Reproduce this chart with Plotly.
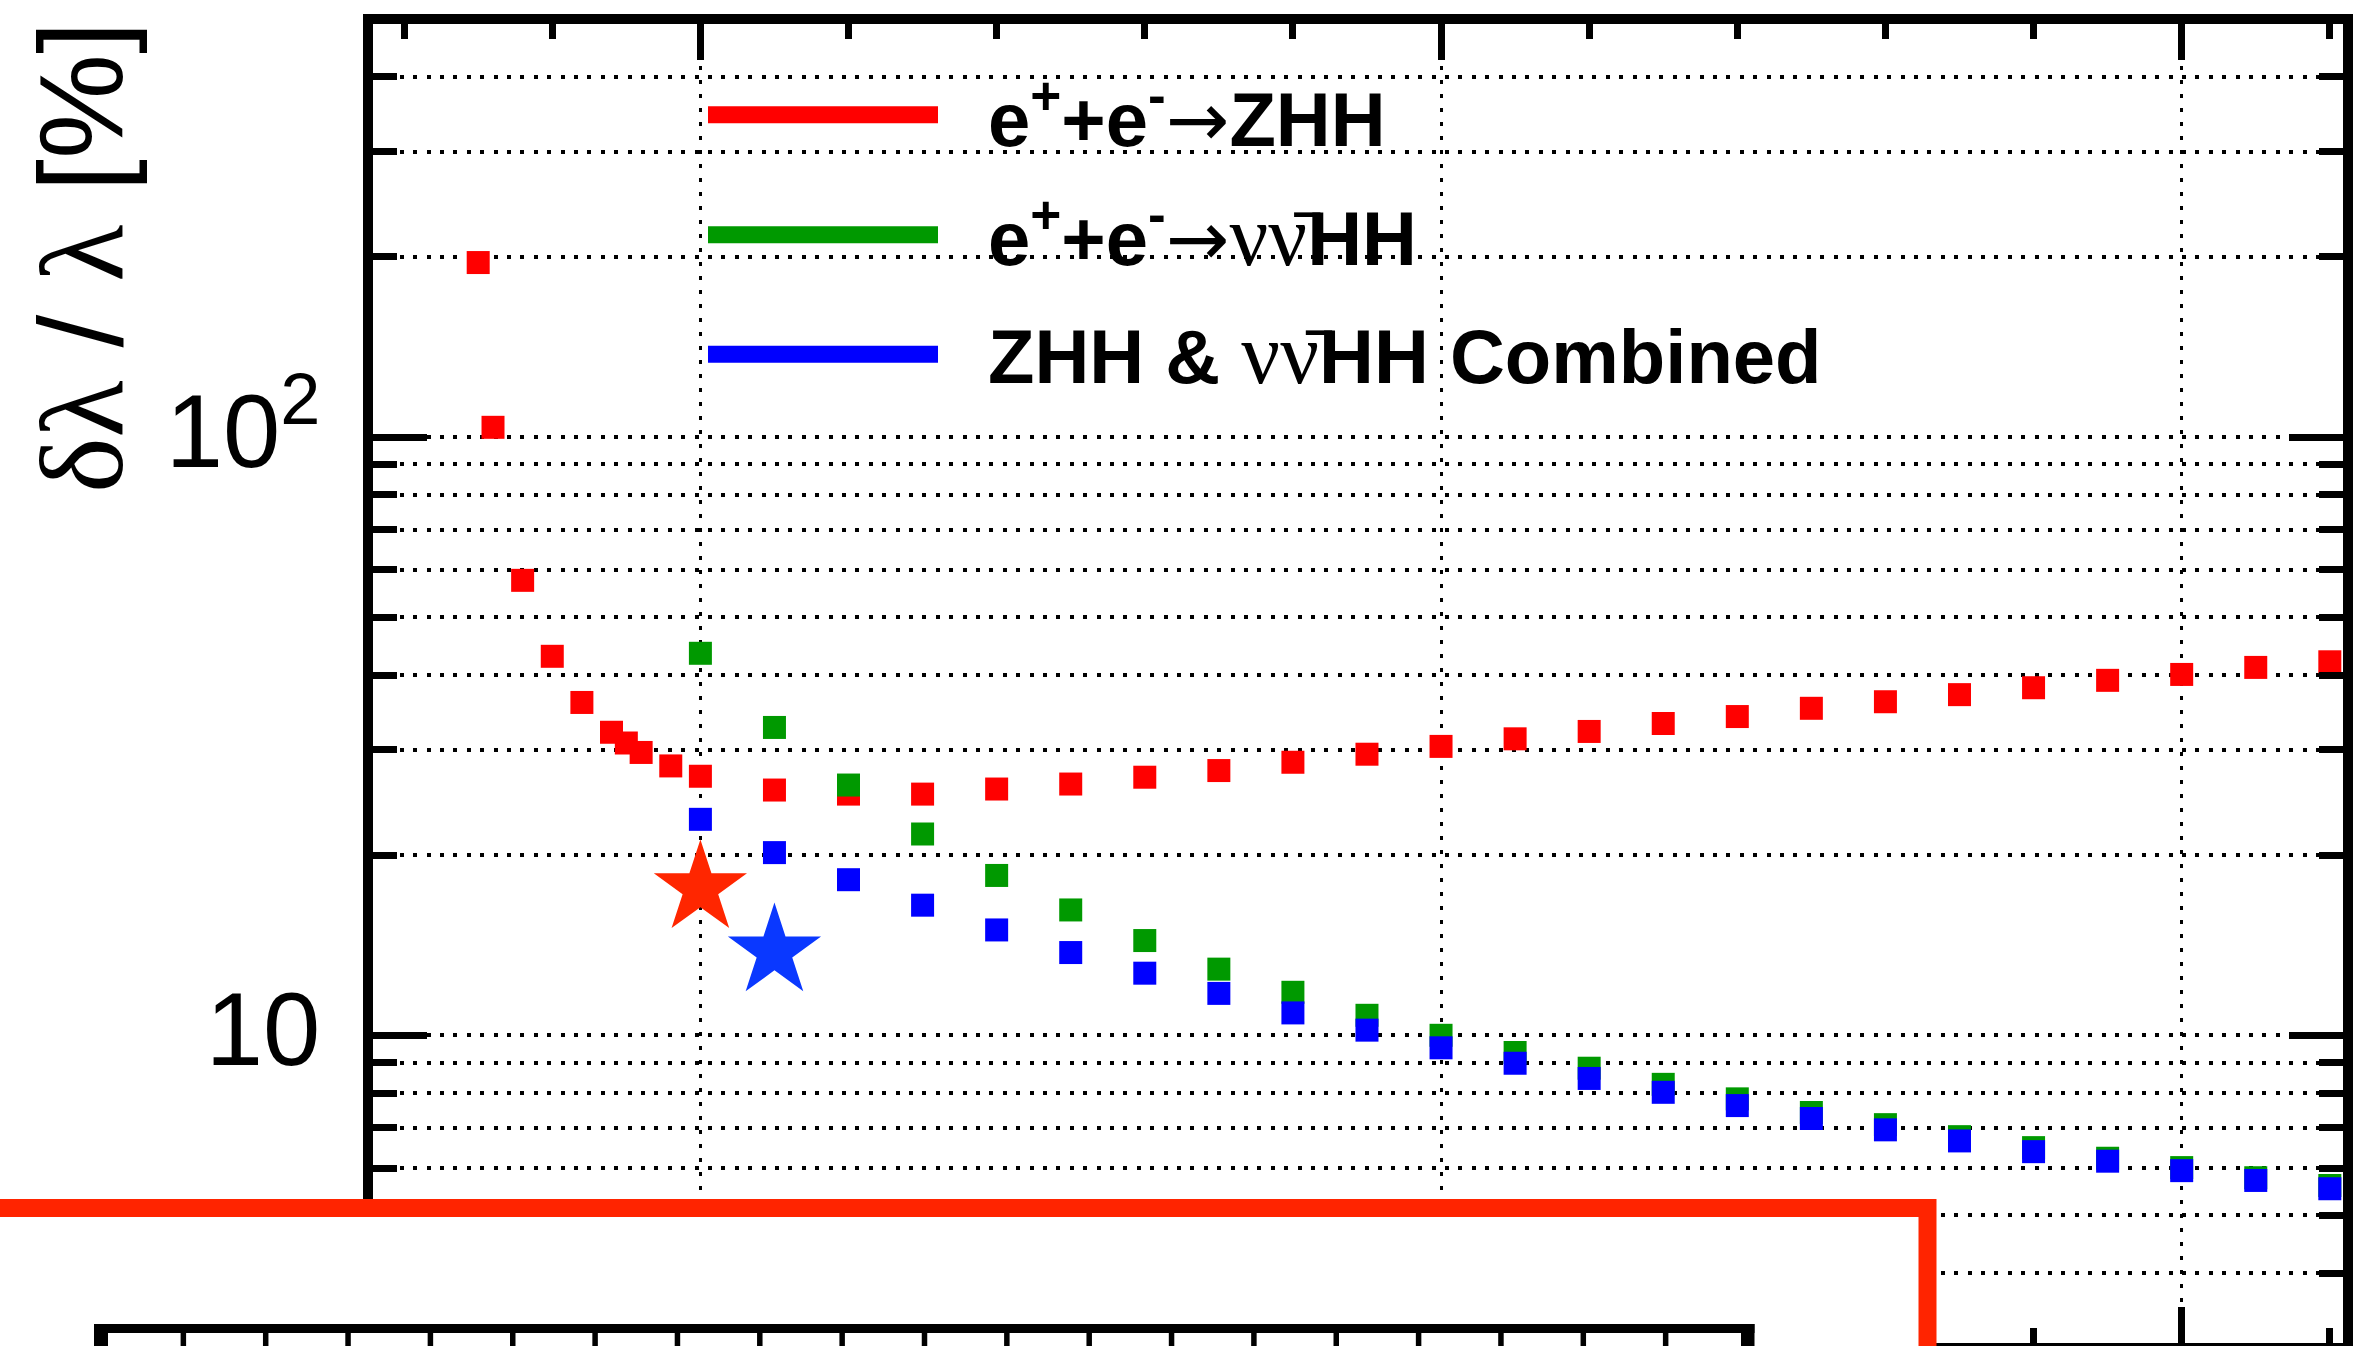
import plotly.graph_objects as go

# Relative precision on the Higgs self-coupling vs. centre-of-mass energy
sqrt_s_zhh = [350, 360, 380, 400, 420, 440, 450, 460, 480, 500, 550, 600, 650, 700,
              750, 800, 850, 900, 950, 1000, 1050, 1100, 1150, 1200, 1250, 1300,
              1350, 1400, 1450, 1500, 1550, 1600]
dl_zhh = [195.7, 103.8, 57.6, 43.0, 36.0, 32.1, 30.8, 29.7, 28.2, 27.1, 25.7, 25.3,
          25.3, 25.8, 26.3, 27.0, 27.7, 28.6, 29.5, 30.4, 31.3, 32.2, 33.2, 34.1,
          35.2, 36.1, 37.1, 38.1, 39.2, 40.1, 41.2, 42.1]

sqrt_s_vvhh = [500, 550, 600, 650, 700, 750, 800, 850, 900, 950, 1000, 1050, 1100,
               1150, 1200, 1250, 1300, 1350, 1400, 1450, 1500, 1550, 1600]
dl_vvhh = [43.5, 32.7, 26.2, 21.7, 18.5, 16.2, 14.4, 12.9, 11.8, 10.8, 10.0, 9.36,
           8.81, 8.28, 7.83, 7.43, 7.09, 6.77, 6.49, 6.23, 6.01, 5.78, 5.61]
dl_comb = [22.96, 20.2, 18.2, 16.5, 15.0, 13.75, 12.7, 11.75, 10.9, 10.2, 9.53, 8.98,
           8.47, 8.03, 7.63, 7.26, 6.95, 6.66, 6.39, 6.16, 5.94, 5.72, 5.54]

# highlighted working points
star_sqrt_s = [500, 550]
star_dl = [17.6, 13.8]
star_colors = ["#ff2600", "#0a38ff"]

# axis ticks
y_major = [10, 100]
y_major_text = ["10", "10<sup>2</sup>"]
y_minor = [4, 5, 6, 7, 8, 9, 20, 30, 40, 50, 60, 70, 80, 90, 200, 300, 400]
x_major = [500, 1000, 1500]
x_minor = [300, 400, 600, 700, 800, 900, 1100, 1200, 1300, 1400, 1600]

series_names = ["e+e- → ZHH", "e+e- → ννHH", "ZHH & ννHH Combined"]
series_colors = ["#ff0000", "#009900", "#0000ff"]

W, H = 2377, 1346
L, R, T, B = 373, 2343, 24, 1343


def px(x):
    return (x - L) / (R - L)


def py(y):
    return (B - y) / (B - T)


fig = go.Figure()
for xs, ys, name, col in [(sqrt_s_zhh, dl_zhh, series_names[0], series_colors[0]),
                          (sqrt_s_vvhh, dl_vvhh, series_names[1], series_colors[1]),
                          (sqrt_s_vvhh, dl_comb, series_names[2], series_colors[2])]:
    fig.add_trace(go.Scatter(x=xs, y=ys, mode="markers", name=name,
                             marker=dict(symbol="square", size=23, color=col,
                                         line=dict(width=0))))

fig.add_trace(go.Scatter(x=star_sqrt_s, y=star_dl, mode="markers",
                         marker=dict(symbol="star", size=70, color=star_colors,
                                     line=dict(width=0))))

grid_y = dict(showgrid=True, gridcolor="black", gridwidth=4, griddash="4px,9.4px")

fig.update_layout(
    width=W, height=H,
    margin=dict(l=L, r=W - R, t=T, b=H - B, pad=0),
    paper_bgcolor="white", plot_bgcolor="white",
    showlegend=False,
    xaxis=dict(range=[278.98, 1608.9], showline=True, linewidth=10, linecolor="black",
               mirror="ticks", ticks="inside", tickmode="array", tickvals=x_major,
               ticklen=36, tickwidth=6.5, tickcolor="black", showticklabels=False,
               showgrid=True, gridcolor="black", gridwidth=3, griddash="4px,10px",
               zeroline=False, automargin=False,
               minor=dict(tickmode="array", tickvals=x_minor, ticks="inside",
                          ticklen=15, tickwidth=6.5, tickcolor="black", showgrid=False)),
    yaxis=dict(type="log", range=[0.4857, 2.6903], showline=True, linewidth=10,
               linecolor="black", mirror="ticks", ticks="inside", tickmode="array",
               tickvals=y_major, ticktext=y_major_text, ticklen=54, tickwidth=6.5,
               tickcolor="black", ticklabelstandoff=22, ticklabelshift=-6,
               tickfont=dict(family="Liberation Sans", size=103, color="black"),
               zeroline=False, automargin=False, **grid_y,
               minor=dict(tickmode="array", tickvals=y_minor, ticks="inside",
                          ticklen=24, tickwidth=6.5, tickcolor="black", **grid_y)),
)

serif = "<span style=\"font-family:'Liberation Serif';font-weight:normal\">"
nu_span = ("<span style=\"font-family:'Liberation Serif';font-weight:normal;"
           "font-size:86px\">")
arrow = "<span style=\"font-family:'DejaVu Sans';font-weight:normal\">→</span>"
nunubar = nu_span + "νν\u0304</span>"

# y-axis title
fig.add_annotation(xref="paper", yref="paper", x=px(82), y=py(20),
                   xanchor="center", yanchor="top", textangle=-90, showarrow=False,
                   borderpad=0,
                   text=serif + "δλ</span> / " + serif + "λ</span> [%]",
                   font=dict(family="Liberation Sans", size=118, color="black"))

# legend
legend_rows = [(114.7, "e<sup>+</sup>+e<sup>-</sup>" + arrow + "ZHH"),
               (234.7, "e<sup>+</sup>+e<sup>-</sup>" + arrow + nunubar + "HH"),
               (354.2, "ZHH &amp; " + nunubar + "HH Combined")]
for (yc, txt), col in zip(legend_rows, series_colors):
    fig.add_shape(type="line", xref="paper", yref="paper",
                  x0=px(708), x1=px(938), y0=py(yc), y1=py(yc),
                  line=dict(color=col, width=17))
    fig.add_annotation(xref="paper", yref="paper", x=px(987), y=py(yc),
                       xanchor="left", yanchor="middle", showarrow=False,
                       borderpad=0, text=txt,
                       font=dict(family="Liberation Sans", size=76, color="black",
                                 weight="bold"))

# inset panel overlapping the lower part of the frame
fig.add_shape(type="rect", xref="paper", yref="paper", layer="above",
              x0=px(-40), x1=px(1927.5), y0=py(1420), y1=py(1208),
              fillcolor="white", line=dict(color="#ff2400", width=18))
for x0, x1, y0, y1 in [(94, 1754.5, 1324, 1333), (94, 108, 1324, 1400),
                       (1741, 1754.5, 1324, 1400)]:
    fig.add_shape(type="rect", xref="paper", yref="paper", layer="above",
                  x0=px(x0), x1=px(x1), y0=py(y1), y1=py(y0),
                  fillcolor="black", line=dict(width=0))
for k in range(1, 20):
    xt = 101 + k * 82.35
    fig.add_shape(type="line", xref="paper", yref="paper", layer="above",
                  x0=px(xt), x1=px(xt), y0=py(1333), y1=py(1400),
                  line=dict(color="black", width=5.5))

fig.write_html("out.html")
